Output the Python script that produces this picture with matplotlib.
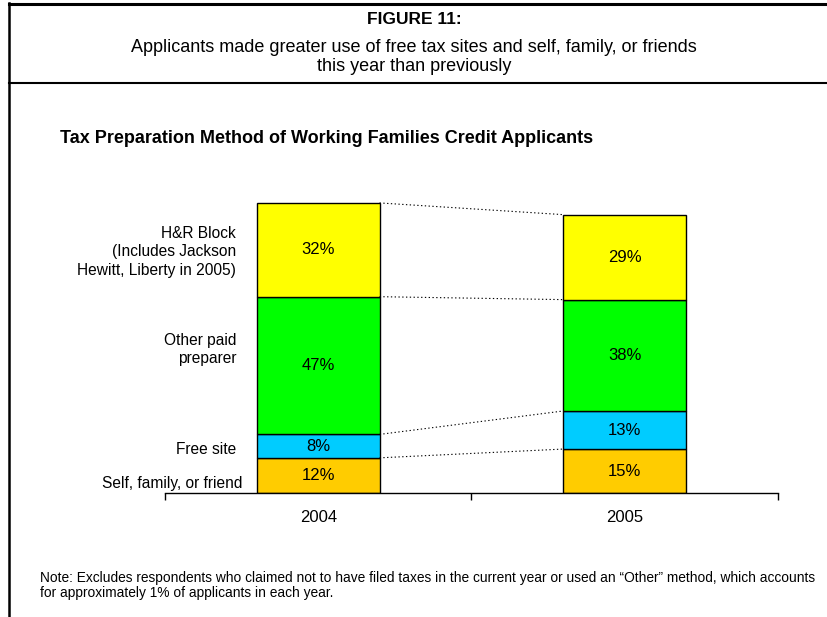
import matplotlib
matplotlib.use("Agg")
import matplotlib.pyplot as plt
from matplotlib.lines import Line2D

plt.rcParams['font.family'] = ['Liberation Sans', 'DejaVu Sans']

# data
years = ['2004', '2005']
methods = ['Self, family, or friend', 'Free site', 'Other paid\npreparer',
           'H&R Block\n(Includes Jackson\nHewitt, Liberty in 2005)']
self_family = [12, 15]
free_site = [8, 13]
other_paid = [47, 38]
hr_block = [32, 29]
colors = ['#FFCC00', '#00CCFF', '#00FF00', '#FFFF00']

series = [self_family, free_site, other_paid, hr_block]

W, H = 828, 617
fig = plt.figure(figsize=(W / 100, H / 100), dpi=100)

# frame lines of the figure box
fig.add_artist(Line2D([9/W, 1.0], [1 - 4/H, 1 - 4/H], color='black', lw=2.2))
fig.add_artist(Line2D([9/W, 1.0], [1 - 83/H, 1 - 83/H], color='black', lw=1.5))
fig.add_artist(Line2D([9/W, 9/W], [0.0, 1 - 3/H], color='black', lw=1.8))

fig.text(0.5, 1 - 19/H, 'FIGURE 11:', ha='center', va='center',
         fontsize=12.5, fontweight='bold')
fig.text(0.5, 1 - 47/H, 'Applicants made greater use of free tax sites and self, family, or friends',
         ha='center', va='center', fontsize=13)
fig.text(0.5, 1 - 66.5/H, 'this year than previously', ha='center', va='center', fontsize=13)

fig.text(60/W, 1 - 142.5/H, 'Tax Preparation Method of Working Families Credit Applicants',
         ha='left', va='baseline', fontsize=13, fontweight='bold')

fig.text(40/W, 1 - 582/H,
         'Note: Excludes respondents who claimed not to have filed taxes in the current year or used an \u201cOther\u201d method, which accounts',
         ha='left', va='baseline', fontsize=9.9)
fig.text(40/W, 1 - 597/H, 'for approximately 1% of applicants in each year.',
         ha='left', va='baseline', fontsize=9.9)

ax = fig.add_axes([165/W, 1 - 493/H, 613/W, 293/H])
x = [0, 1]
w = 0.4
bottoms = [0, 0]
for vals, c in zip(series, colors):
    ax.bar(x, vals, width=w, bottom=bottoms, color=c, edgecolor='black', linewidth=1.0)
    for i in range(2):
        ax.text(x[i], bottoms[i] + vals[i] / 2, '%d%%' % vals[i],
                ha='center', va='center', fontsize=12)
    bottoms = [bottoms[i] + vals[i] for i in range(2)]

# dotted connectors between the bars
cum = [0, 0]
for vals in series:
    cum = [cum[i] + vals[i] for i in range(2)]
    ax.plot([x[0] + w/2, x[1] - w/2], cum, color='black', lw=0.8, ls=(0, (1.2, 2.2)),
            clip_on=False)

# category labels beside the 2004 bar
lab_y = [3.3, 14.7, 49, 82.3]
for name, yy in zip(methods, lab_y):
    xx = -0.246 if name.startswith('Self') else -0.268
    ax.text(xx, yy, name, ha='right', va='center', fontsize=11.2, linespacing=1.28)

ax.set_xlim(-0.5, 1.5)
ax.set_ylim(0, 100)
for s in ['top', 'right', 'left']:
    ax.spines[s].set_visible(False)
ax.spines['bottom'].set_linewidth(1.0)
ax.set_yticks([])
ax.set_xticks([-0.5, 0.5, 1.5])
ax.set_xticklabels([])
ax.tick_params(axis='x', direction='out', length=5, width=1)
for i, y in enumerate(years):
    ax.text(x[i], -8.5, y, ha='center', va='center', fontsize=12)

fig.savefig('out.png', dpi=100)
